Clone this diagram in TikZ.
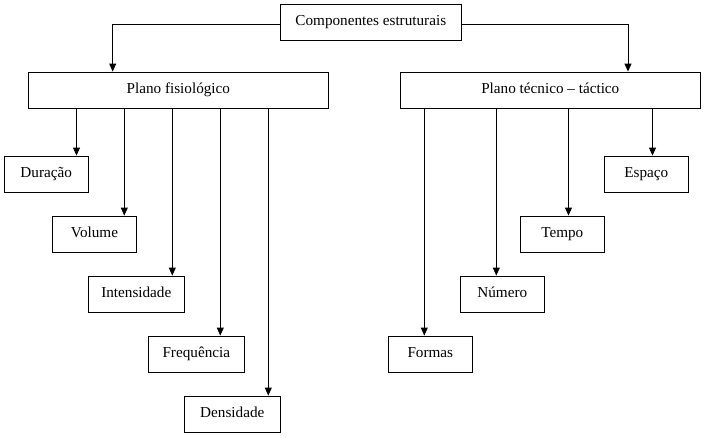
\documentclass[tikz,border=0pt]{standalone}
\usepackage{fontspec}
\setmainfont{Liberation Serif}
\usetikzlibrary{arrows.meta}
\begin{document}
\begin{tikzpicture}[x=1pt,y=-1pt,
  box/.style={draw,line width=0.9pt,minimum height=36pt,inner sep=0pt,
    text height=11pt,text depth=4pt,
    font=\fontsize{15.2}{18}\selectfont},
  arr/.style={line width=0.9pt,-{Triangle[length=8pt,width=7pt]}}]
\useasboundingbox[fill=white] (0,0) rectangle (704,437);
\node[box,minimum width=181pt] (top) at (370.8,22) {Componentes estruturais};
\node[box,minimum width=300pt] (pf) at (178.3,90) {Plano fisiológico};
\node[box,minimum width=300pt] (pt) at (550.3,90) {Plano técnico – táctico};
\node[box,minimum width=84pt] (dur) at (46.2,174) {Duração};
\node[box,minimum width=84pt] (vol) at (94.5,234) {Volume};
\node[box,minimum width=96pt] (int) at (136.3,294) {Intensidade};
\node[box,minimum width=96pt] (fre) at (196.3,354) {Frequência};
\node[box,minimum width=96pt] (den) at (232.3,414) {Densidade};
\node[box,minimum width=84pt] (for) at (430.3,354) {Formas};
\node[box,minimum width=84pt] (num) at (502.3,294) {Número};
\node[box,minimum width=84pt] (tem) at (562.3,234) {Tempo};
\node[box,minimum width=84pt] (esp) at (646.3,174) {Espaço};
\coordinate (tl) at (112.7,24);
\coordinate (tr) at (628,24);
\draw[arr] (top.west |- tl) -| (pf.north -| tl);
\draw[arr] (top.east |- tr) -| (pt.north -| tr);
\coordinate (a1) at (76.5,0);
\coordinate (a2) at (124.3,0);
\coordinate (a3) at (172.3,0);
\coordinate (a4) at (220.3,0);
\coordinate (a5) at (268.3,0);
\coordinate (b1) at (424.3,0);
\coordinate (b2) at (496.3,0);
\coordinate (b3) at (568.5,0);
\coordinate (b4) at (652.5,0);
\draw[arr] (pf.south -| a1) -- (dur.north -| a1);
\draw[arr] (pf.south -| a2) -- (vol.north -| a2);
\draw[arr] (pf.south -| a3) -- (int.north -| a3);
\draw[arr] (pf.south -| a4) -- (fre.north -| a4);
\draw[arr] (pf.south -| a5) -- (den.north -| a5);
\draw[arr] (pt.south -| b1) -- (for.north -| b1);
\draw[arr] (pt.south -| b2) -- (num.north -| b2);
\draw[arr] (pt.south -| b3) -- (tem.north -| b3);
\draw[arr] (pt.south -| b4) -- (esp.north -| b4);
\end{tikzpicture}
\end{document}
